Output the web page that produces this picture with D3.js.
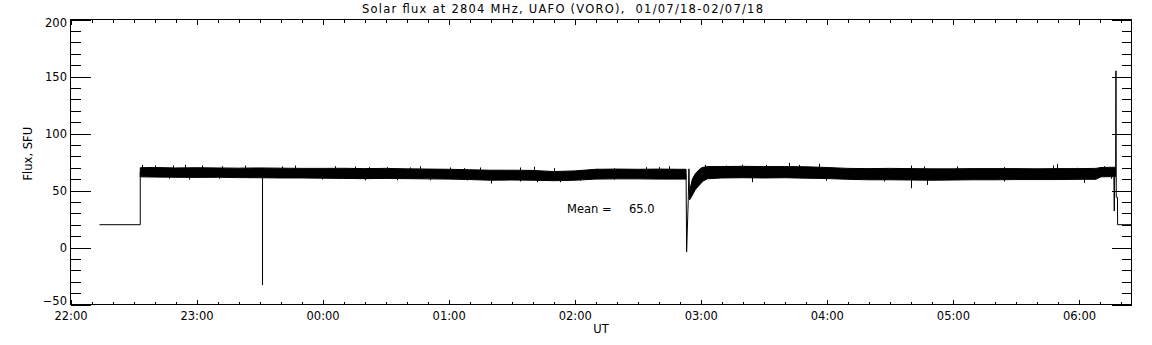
<!DOCTYPE html>
<html lang="en">
<head>
<meta charset="UTF-8">
<title>Solar flux at 2804 MHz, UAFO (VORO)</title>
<script src="https://d3js.org/d3.v7.min.js"></script>
<style>
  html, body {
    margin: 0;
    padding: 0;
    background: #fff;
    overflow: hidden;
  }
  svg { display: block; }
  text {
    font-family: "DejaVu Sans", sans-serif;
    font-size: 11.5px;
    fill: #000;
  }
</style>
</head>
<body>
<svg width="1152" height="345"></svg>
<script>
// all times are minutes after 22:00 UT, 01/07/18
const titleText = "Solar flux at 2804 MHz, UAFO (VORO),  01/07/18-02/07/18";
const meanFlux = 65.0;

// noise band of the record (lower / upper edge, SFU); null = gap at the dip
const bandMinutes = [33.2, 40, 50, 60, 70, 80, 90, 100, 110, 120, 130, 140, 150, 160, 170, 180, 190,
  200, 210, 220, 230, 240, 250, 260, 270, 280, 290, 293.0, 293.1,
  294.7, 295.1, 296.0, 297.5, 299.9, 301.3, 303.2, 310, 320, 330, 340, 350, 360, 370, 380, 390,
  400, 410, 420, 430, 440, 450, 460, 470, 480, 488, 490.5, 497.4];
const bandLow = [62.0, 61.8, 61.6, 61.5, 61.6, 61.3, 61.2, 61.0, 61.0, 60.8, 60.6, 60.4, 60.6, 60.4, 60.2, 60.0, 59.6,
  59.0, 59.2, 59.0, 58.6, 59.0, 60.0, 60.2, 60.2, 60.0, 60.0, 60.0, null,
  42.0, 43.0, 46.0, 51.0, 56.0, 58.5, 60.3, 61.0, 61.2, 61.0, 61.2, 60.8, 60.5, 59.8, 59.4, 59.4,
  59.2, 59.0, 59.2, 59.4, 59.4, 59.6, 59.6, 59.6, 59.8, 59.8, 62.0, 62.2];
const bandHigh = [70.0, 70.2, 69.8, 70.0, 69.8, 69.6, 69.8, 69.6, 69.4, 69.4, 69.5, 69.2, 69.4, 69.0, 68.8, 68.6, 68.2,
  67.8, 67.8, 67.6, 66.6, 67.2, 68.6, 68.8, 68.6, 68.8, 68.6, 68.6, null,
  46.0, 53.0, 60.0, 65.0, 69.5, 70.5, 71.0, 71.0, 71.2, 71.0, 71.0, 70.8, 70.2, 69.4, 69.2, 69.4,
  69.2, 69.0, 69.0, 69.2, 69.2, 69.2, 69.0, 69.2, 69.2, 69.4, 70.2, 70.4];

// single samples sticking out of the band
const spikeMinutes = [34.0, 40.3, 49.0, 54.6, 62.6, 72.1, 83.2, 100.7, 107.0, 126.0, 135.6, 141.9,
  46.7, 56.2, 70.5, 84.8, 99.0, 119.7, 140.3,
  150.7, 161.8, 166.2, 180.8, 187.1, 195.1, 214.1, 220.5, 230.0, 250.7, 258.6,
  155.4, 171.3, 188.8, 200.3, 214.1, 222.1, 233.2, 242.7, 258.6,
  273.7, 280.0, 284.8, 302.2, 311.8, 319.7, 330.8, 341.9, 346.7, 356.2, 324.5, 359.4,
  399.9, 406.2, 422.1, 444.3, 467.8, 469.4, 479.2, 491.9,
  387.1, 399.9, 407.8, 444.3, 482.4, 495.1];
const spikeFlux = [72.5, 71.9, 71.9, 72.5, 71.9, 71.3, 71.9, 71.1, 71.9, 71.3, 71.1, 70.5,
  60.3, 59.6, 60.3, 60.8, 60.8, 59.6, 59.0,
  70.5, 70.2, 71.3, 70.2, 69.6, 70.2, 70.2, 70.8, 69.6, 69.0, 69.6,
  59.0, 59.0, 58.8, 56.1, 57.9, 57.3, 57.3, 58.5, 59.6,
  70.5, 70.5, 71.3, 72.5, 71.9, 72.5, 72.5, 74.3, 72.5, 73.4, 57.3, 58.5,
  71.9, 71.1, 71.1, 70.5, 71.9, 73.4, 69.9, 71.3,
  57.9, 52.0, 54.9, 57.9, 56.6, 60.3];

// line pieces outside the band
const startMinutes = [13.8, 33.2, 33.2];
const startFlux = [20, 20, 66];
const dropMinutes = [91.4, 91.4];
const dropFlux = [62, -33];
const dipMinutes = [293.0, 293.25, 294.0, 294.35, 294.7];
const dipFlux = [64, -4, 40, 69, 42];
const endMinutes = [496.6, 496.8, 497.0, 497.45, 497.6, 497.75, 498.3, 498.4, 505];
const endFlux = [62, 32, 63, 66, 155, 44, 44, 20, 20];

const svg = d3.select("svg");
const t0 = new Date(Date.UTC(2018, 6, 1, 22, 0));
const at = m => new Date(t0.getTime() + m * 60000);

const x = d3.scaleUtc().domain([at(0), at(505)]).range([70.5, 1131.5]);
const y = d3.scaleLinear().domain([-50, 200]).range([304.5, 19.5]);

// ---- data
const band = bandMinutes.map((m, i) => ({ t: at(m), lo: bandLow[i], hi: bandHigh[i] }));
svg.append("path")
  .datum(band)
  .attr("fill", "#000")
  .attr("stroke", "#000")
  .attr("stroke-width", 1)
  .attr("d", d3.area()
    .defined(d => d.lo !== null)
    .x(d => x(d.t))
    .y0(d => y(d.lo))
    .y1(d => y(d.hi)));

svg.append("g")
  .attr("stroke", "#000")
  .attr("stroke-width", 1)
  .selectAll("line")
  .data(spikeMinutes.map((m, i) => ({ t: at(m), v: spikeFlux[i] })))
  .join("line")
  .attr("x1", d => Math.round(x(d.t)) + 0.5)
  .attr("x2", d => Math.round(x(d.t)) + 0.5)
  .attr("y1", y(65))
  .attr("y2", d => y(d.v));

const line = d3.line().x(d => x(d.t)).y(d => y(d.v));
const pieces = [
  [startMinutes, startFlux],
  [dropMinutes, dropFlux],
  [dipMinutes, dipFlux],
  [endMinutes, endFlux]
];
pieces.forEach(([ms, vs]) => {
  svg.append("path")
    .datum(ms.map((m, i) => ({ t: at(m), v: vs[i] })))
    .attr("fill", "none")
    .attr("stroke", "#000")
    .attr("stroke-width", 1)
    .attr("d", line);
});

// ---- axes (IDL style: ticks inward on all four sides)
function clean(g) {
  g.select(".domain").remove();
  g.selectAll("line").attr("stroke", "#000").attr("shape-rendering", "crispEdges");
  g.selectAll("text").attr("fill", "#000").attr("font-family", null).attr("font-size", null);
}

const hours = d3.utcHour.every(1);
const tenMin = d3.utcMinute.every(10);

svg.append("g").attr("transform", "translate(0,304.5)")
  .call(d3.axisBottom(x).ticks(tenMin).tickSize(-3).tickFormat(""))
  .call(clean);
svg.append("g").attr("transform", "translate(0,304.5)")
  .call(d3.axisBottom(x).ticks(hours).tickSize(-5).tickPadding(7).tickFormat(d3.utcFormat("%H:%M")))
  .call(clean);
svg.append("g").attr("transform", "translate(0,19.5)")
  .call(d3.axisTop(x).ticks(tenMin).tickSize(-3).tickFormat(""))
  .call(clean);
svg.append("g").attr("transform", "translate(0,19.5)")
  .call(d3.axisTop(x).ticks(hours).tickSize(-5).tickFormat(""))
  .call(clean);

const yMajor = d3.range(-50, 201, 50);
const yMinor = d3.range(-50, 201, 10);

svg.append("g").attr("transform", "translate(70.5,0)")
  .call(d3.axisLeft(y).tickValues(yMinor).tickSize(-10).tickFormat(""))
  .call(clean);
svg.append("g").attr("transform", "translate(70.5,0)")
  .call(d3.axisLeft(y).tickValues(yMajor).tickSize(-20).tickPadding(3.5).tickFormat(d3.format("d")))
  .call(clean)
  .selectAll("text")
  .attr("dy", d => d === 200 ? "0.62em" : d === -50 ? "0.02em" : "0.32em");
svg.append("g").attr("transform", "translate(1131.5,0)")
  .call(d3.axisRight(y).tickValues(yMinor).tickSize(-10).tickFormat(""))
  .call(clean);
svg.append("g").attr("transform", "translate(1131.5,0)")
  .call(d3.axisRight(y).tickValues(yMajor).tickSize(-20).tickFormat(""))
  .call(clean);

svg.append("rect")
  .attr("x", 70.5).attr("y", 19.5)
  .attr("width", 1061).attr("height", 285)
  .attr("fill", "none")
  .attr("stroke", "#000")
  .attr("shape-rendering", "crispEdges");

// ---- texts
svg.append("text")
  .attr("x", 362).attr("y", 13)
  .attr("textLength", 401)
  .attr("lengthAdjust", "spacing")
  .style("white-space", "pre")
  .text(titleText);

svg.append("text")
  .attr("x", 601).attr("y", 332.5)
  .attr("text-anchor", "middle")
  .text("UT");

svg.append("text")
  .attr("transform", "translate(31.5,180.5) rotate(-90)")
  .text("Flux, SFU");

const meanLabel = svg.append("text").attr("y", 213.3);
meanLabel.append("tspan").attr("x", 567).text("Mean =");
meanLabel.append("tspan").attr("x", 654.5).attr("text-anchor", "end").text(d3.format(".1f")(meanFlux));
</script>
</body>
</html>
